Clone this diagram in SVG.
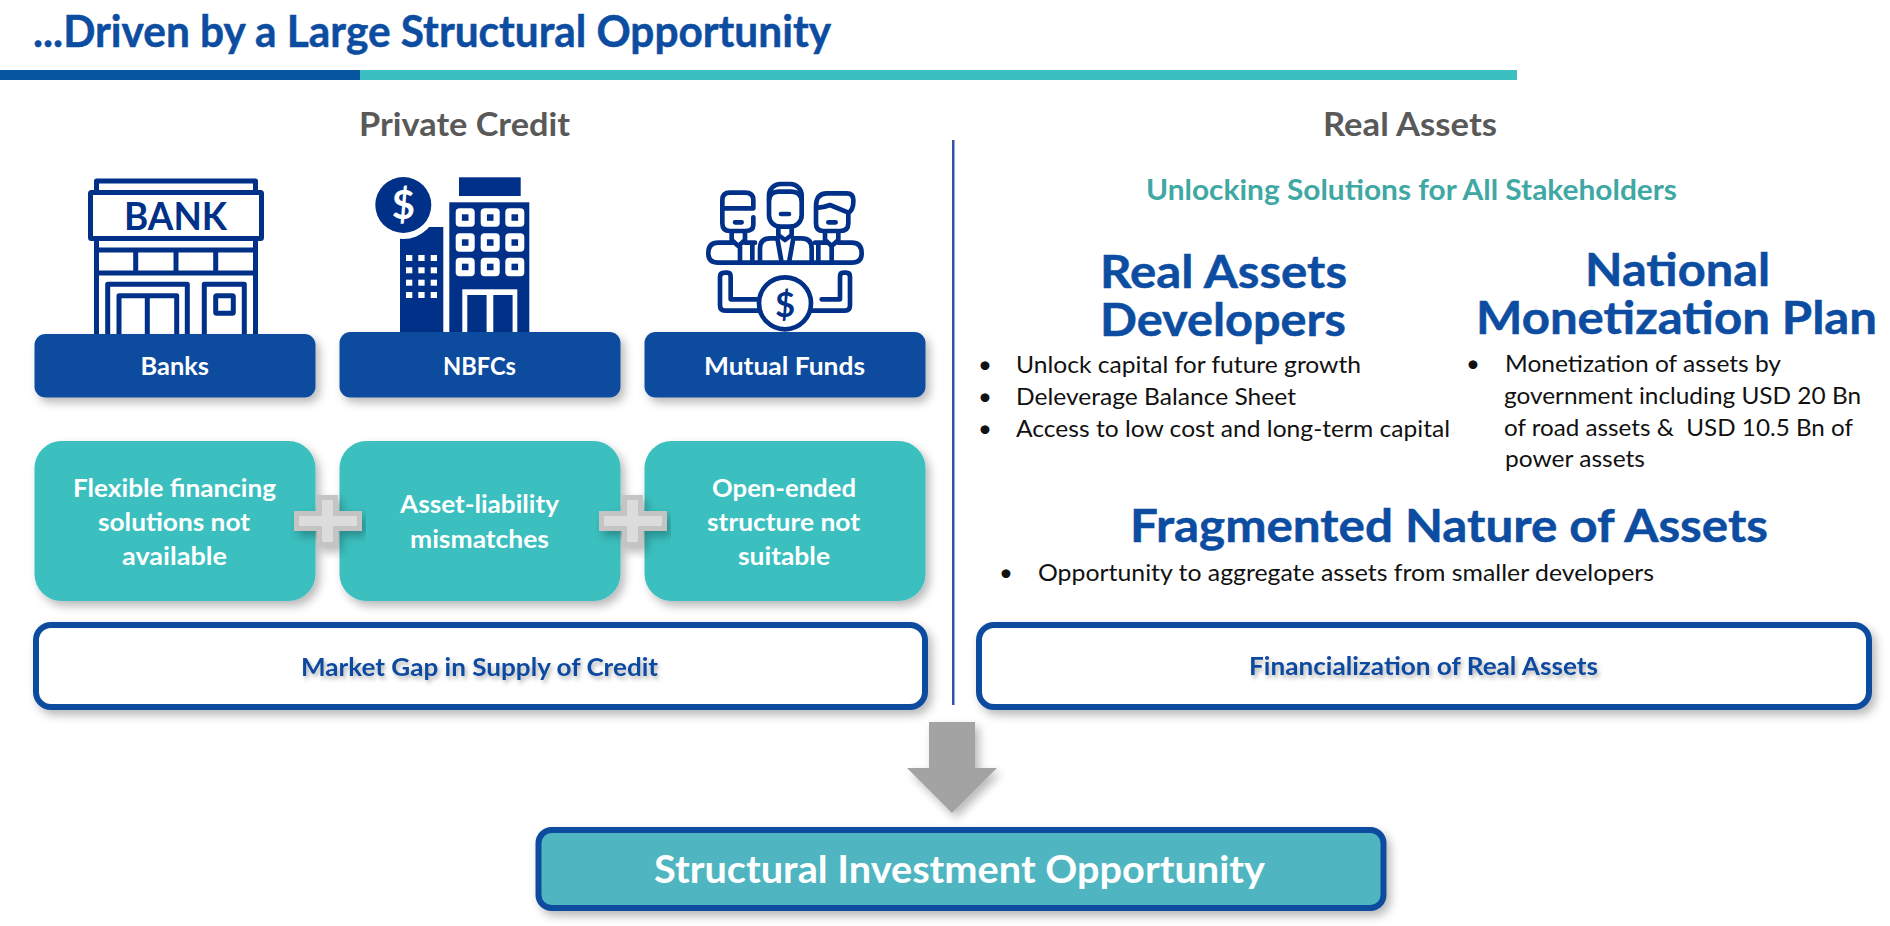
<svg xmlns="http://www.w3.org/2000/svg" width="1890" height="926" viewBox="0 0 1890 926">
<style>
text{font-family:Lato,"Open Sans","Liberation Sans",sans-serif}
.b{font-weight:700}
.title{font-size:43px;fill:#0d4da1;stroke:#0d4da1;stroke-width:.5px}
.sec{font-size:32px;fill:#595959}
.sub{font-size:28px;fill:#40a8a4}
.h{font-size:46px;fill:#0c4da2;stroke:#0c4da2;stroke-width:.5px}
.li{font-size:24px;fill:#111}
.lab{font-size:25px;fill:#fff}
.gap{font-size:25px;fill:#0e4a9e}
.blue{fill:#0f4c9f}
.teal{fill:#3abfbf}
.frame{fill:#fff;stroke:#0f4c9f;stroke-width:6}
.plus{fill:#dcdcdc;stroke:#c4c4c4;stroke-width:5}
.dk{fill:#003087}
.ln{fill:none;stroke:#003087;stroke-linejoin:round;stroke-linecap:round}
</style>
<defs>
<filter id="sh" x="-10%" y="-20%" width="120%" height="150%"><feDropShadow dx="4" dy="5" stdDeviation="5" flood-color="#000" flood-opacity=".28"/></filter>
<filter id="ts" x="-5%" y="-30%" width="110%" height="170%"><feDropShadow dx="2" dy="3" stdDeviation="2" flood-color="#000" flood-opacity=".3"/></filter>
</defs>
<rect width="1890" height="926" fill="#fff"/>

<g id="header">
<text class="title b" x="33" y="47" textLength="798" lengthAdjust="spacingAndGlyphs">...Driven by a Large Structural Opportunity</text>
<rect x="0" y="70" width="360" height="10" fill="#0755a0"/>
<rect x="360" y="70" width="1157" height="10" fill="#3bbfc1"/>
</g>

<text id="private-credit-title" class="sec b" x="359" y="136" textLength="211" lengthAdjust="spacingAndGlyphs">Private Credit</text>
<text id="real-assets-title" class="sec b" x="1323" y="136" textLength="174" lengthAdjust="spacingAndGlyphs">Real Assets</text>
<rect id="divider" x="952" y="140" width="2.5" height="565" fill="#2f55a4"/>

<g id="icon-bank" class="ln" stroke-width="5" fill="none">
<path class="ln" stroke-width="5" d="M96.500 190V181H255.500V190M96.500 241V340M255.500 241V340M96.500 250H255.500M96.500 273H255.500M135.700 250V273M176 250V273M215.700 250V273M107.700 340V284.300H187.300V340M119 340V295.700H176.700V340M147.300 295.700V340M204.300 340V284.300H244.300V340"/>
<rect class="ln" stroke-width="5" x="90.500" y="192.500" width="171" height="46" rx="1"/>
<rect class="ln" stroke-width="5" x="215.700" y="295.700" width="17.600" height="17.600" rx="1"/>
<text x="124" y="230" font-size="38" class="b" fill="#003087" stroke="none" textLength="103" lengthAdjust="spacingAndGlyphs">BANK</text>
</g>

<g id="icon-nbfc">
<rect class="dk" x="459" y="177.300" width="61.700" height="18.700"/>
<rect class="dk" x="449.300" y="202.300" width="80" height="140"/>
<g fill="#fff">
<rect x="455.700" y="208.300" width="19" height="18.500" rx="4"/><rect x="480.700" y="208.300" width="19" height="18.500" rx="4"/><rect x="505.300" y="208.300" width="19" height="18.500" rx="4"/>
<rect x="455.700" y="233.300" width="19" height="18.500" rx="4"/><rect x="480.700" y="233.300" width="19" height="18.500" rx="4"/><rect x="505.300" y="233.300" width="19" height="18.500" rx="4"/>
<rect x="455.700" y="257.700" width="19" height="18.500" rx="4"/><rect x="480.700" y="257.700" width="19" height="18.500" rx="4"/><rect x="505.300" y="257.700" width="19" height="18.500" rx="4"/>
<rect x="462.300" y="289.300" width="55" height="52"/>
</g>
<g class="dk">
<rect x="461.900" y="214.300" width="6.600" height="6.500"/><rect x="486.900" y="214.300" width="6.600" height="6.500"/><rect x="511.500" y="214.300" width="6.600" height="6.500"/>
<rect x="461.900" y="239.300" width="6.600" height="6.500"/><rect x="486.900" y="239.300" width="6.600" height="6.500"/><rect x="511.500" y="239.300" width="6.600" height="6.500"/>
<rect x="461.900" y="263.700" width="6.600" height="6.500"/><rect x="486.900" y="263.700" width="6.600" height="6.500"/><rect x="511.500" y="263.700" width="6.600" height="6.500"/>
<rect x="467.300" y="295" width="19.300" height="47"/><rect x="493.300" y="295" width="19.300" height="47"/>
</g>
<rect class="dk" x="400" y="227" width="43.300" height="115"/>
<circle cx="403.300" cy="205" r="34" fill="#fff"/>
<circle class="dk" cx="403.300" cy="205" r="28"/>
<text x="403.300" y="219" font-size="40" class="b" fill="#fff" text-anchor="middle">$</text>
<g fill="#fff">
<rect x="406" y="255" width="6.300" height="6"/><rect x="418.300" y="255" width="6.300" height="6"/><rect x="430.700" y="255" width="6.300" height="6"/>
<rect x="406" y="267.300" width="6.300" height="6"/><rect x="418.300" y="267.300" width="6.300" height="6"/><rect x="430.700" y="267.300" width="6.300" height="6"/>
<rect x="406" y="279.700" width="6.300" height="6"/><rect x="418.300" y="279.700" width="6.300" height="6"/><rect x="430.700" y="279.700" width="6.300" height="6"/>
<rect x="406" y="292" width="6.300" height="6"/><rect x="418.300" y="292" width="6.300" height="6"/><rect x="430.700" y="292" width="6.300" height="6"/>
</g>
</g>

<g id="icon-funds" transform="translate(690 170) scale(.33333)">
<g class="ln" stroke-width="14" fill="none">
<path class="ln" stroke-width="14" d="M100 115H190V90Q190 68 165 68H120Q97 68 97 90V160Q97 183 120 183H165Q190 183 190 165V142M135 157H155"/>
<rect class="ln" stroke-width="14" x="237" y="42" width="98" height="128" rx="34"/>
<path class="ln" stroke-width="14" d="M237 90Q240 65 265 65H305Q330 65 335 90M273 132H297"/>
<path class="ln" stroke-width="14" d="M378 112Q395 115 420 105L475 128Q490 120 490 95V90Q490 70 470 70H410Q378 70 378 110V160Q378 183 400 183H450Q475 183 475 160V128M415 157H437"/>
<path class="ln" stroke-width="14" d="M125 188V210L145 228L165 210V188M265 170V195L285 210L305 195V170M405 188V210L425 228L445 210V188"/>
<path class="ln" stroke-width="14" d="M130 218H85Q55 218 55 250Q55 278 85 278H485Q515 278 515 250Q515 218 485 218H445M210 278V235Q210 205 240 205H262M365 278V235Q365 205 335 205H310M262 205L275 278M310 205L297 278M150 230V278M187 218V278M425 230V278M385 218V278M165 218H195M410 218H375"/>
<path class="ln" stroke-width="14" d="M205 422H105Q90 422 90 405V320Q90 308 105 308H112Q122 308 122 320V388H205M365 422H465Q480 422 480 405V320Q480 308 468 308H460Q450 308 450 320V388H395"/>
<circle class="ln" stroke-width="14" cx="285" cy="400" r="78"/>
</g>
<text x="285" y="440" font-size="104" class="b" fill="#003087" text-anchor="middle">$</text>
</g>

<g id="node-banks"><rect class="blue" x="34.500" y="334" width="281" height="63.500" rx="11" filter="url(#sh)"/><text class="lab b" x="140.500" y="375" textLength="68.500" lengthAdjust="spacingAndGlyphs">Banks</text></g>
<g id="node-nbfcs"><rect class="blue" x="339.500" y="332" width="281" height="65.500" rx="11" filter="url(#sh)"/><text class="lab b" x="443" y="374.500" textLength="73" lengthAdjust="spacingAndGlyphs">NBFCs</text></g>
<g id="node-funds"><rect class="blue" x="644.500" y="332" width="281" height="65.500" rx="11" filter="url(#sh)"/><text class="lab b" x="704" y="374.500" textLength="161" lengthAdjust="spacingAndGlyphs">Mutual Funds</text></g>

<g id="node-flexible"><rect class="teal" x="34.500" y="441" width="281" height="160" rx="27" filter="url(#sh)"/>
<text class="lab b" x="73" y="497" textLength="203" lengthAdjust="spacingAndGlyphs">Flexible financing</text>
<text class="lab b" x="98" y="531" textLength="152" lengthAdjust="spacingAndGlyphs">solutions not</text>
<text class="lab b" x="122" y="565" textLength="105" lengthAdjust="spacingAndGlyphs">available</text></g>
<g id="node-alm"><rect class="teal" x="339.500" y="441" width="281" height="160" rx="27" filter="url(#sh)"/>
<text class="lab b" x="400" y="513" textLength="159" lengthAdjust="spacingAndGlyphs">Asset-liability</text>
<text class="lab b" x="410" y="548" textLength="139" lengthAdjust="spacingAndGlyphs">mismatches</text></g>
<g id="node-open"><rect class="teal" x="644.500" y="441" width="281" height="160" rx="27" filter="url(#sh)"/>
<text class="lab b" x="712" y="497" textLength="144" lengthAdjust="spacingAndGlyphs">Open-ended</text>
<text class="lab b" x="707" y="531" textLength="153" lengthAdjust="spacingAndGlyphs">structure not</text>
<text class="lab b" x="738" y="565" textLength="92" lengthAdjust="spacingAndGlyphs">suitable</text></g>

<g id="connectors">
<path class="plus" filter="url(#sh)" d="M319.500 497.500H335.500V513.500H359.500V528.500H335.500V544.500H319.500V528.500H296.500V513.500H319.500Z"/>
<path class="plus" filter="url(#sh)" d="M624.500 497.500H640.500V513.500H664.500V528.500H640.500V544.500H624.500V528.500H601.500V513.500H624.500Z"/>
<path filter="url(#sh)" fill="#a3a3a3" d="M929 722H975V768H997L952 813L907 768H929Z"/>
</g>

<g id="node-market-gap"><rect class="frame" x="36" y="625" width="889" height="82" rx="15" filter="url(#sh)"/>
<text class="gap b" x="301" y="676" textLength="357" lengthAdjust="spacingAndGlyphs" filter="url(#ts)">Market Gap in Supply of Credit</text></g>
<g id="node-financialization"><rect class="frame" x="979" y="625" width="890" height="82" rx="15" filter="url(#sh)"/>
<text class="gap b" x="1249" y="675" textLength="349" lengthAdjust="spacingAndGlyphs" filter="url(#ts)">Financialization of Real Assets</text></g>

<text id="unlocking" class="sub b" x="1146" y="200" textLength="531" lengthAdjust="spacingAndGlyphs">Unlocking Solutions for All Stakeholders</text>

<g id="developers">
<text class="h b" x="1100" y="288" textLength="247" lengthAdjust="spacingAndGlyphs">Real Assets</text>
<text class="h b" x="1100" y="336" textLength="246" lengthAdjust="spacingAndGlyphs">Developers</text>
<text class="li" x="985" y="373" text-anchor="middle">•</text><text class="li" x="1016" y="373" textLength="345" lengthAdjust="spacingAndGlyphs">Unlock capital for future growth</text>
<text class="li" x="985" y="405" text-anchor="middle">•</text><text class="li" x="1016" y="405" textLength="280" lengthAdjust="spacingAndGlyphs">Deleverage Balance Sheet</text>
<text class="li" x="985" y="437" text-anchor="middle">•</text><text class="li" x="1016" y="437" textLength="434" lengthAdjust="spacingAndGlyphs">Access to low cost and long-term capital</text>
</g>
<g id="monetization">
<text class="h b" x="1585" y="286" textLength="185" lengthAdjust="spacingAndGlyphs">National</text>
<text class="h b" x="1476" y="334" textLength="401" lengthAdjust="spacingAndGlyphs">Monetization Plan</text>
<text class="li" x="1473" y="372" text-anchor="middle">•</text><text class="li" x="1505" y="372" textLength="276" lengthAdjust="spacingAndGlyphs">Monetization of assets by</text>
<text class="li" x="1504" y="404" textLength="357" lengthAdjust="spacingAndGlyphs">government including USD 20 Bn</text>
<text class="li" x="1504" y="436" textLength="349" lengthAdjust="spacingAndGlyphs" xml:space="preserve">of road assets &amp;  USD 10.5 Bn of</text>
<text class="li" x="1505" y="467" textLength="140" lengthAdjust="spacingAndGlyphs">power assets</text>
</g>
<g id="fragmented">
<text class="h b" x="1130" y="542" textLength="638" lengthAdjust="spacingAndGlyphs">Fragmented Nature of Assets</text>
<text class="li" x="1006" y="581" text-anchor="middle">•</text><text class="li" x="1038" y="581" textLength="616" lengthAdjust="spacingAndGlyphs">Opportunity to aggregate assets from smaller developers</text>
</g>

<g id="node-opportunity"><rect x="538.500" y="830" width="845" height="78" rx="13" fill="#50b6c1" stroke="#0f4c9f" stroke-width="6" filter="url(#sh)"/>
<text class="b" font-size="38" fill="#fff" x="654" y="883" textLength="611" lengthAdjust="spacingAndGlyphs">Structural Investment Opportunity</text></g>
</svg>
